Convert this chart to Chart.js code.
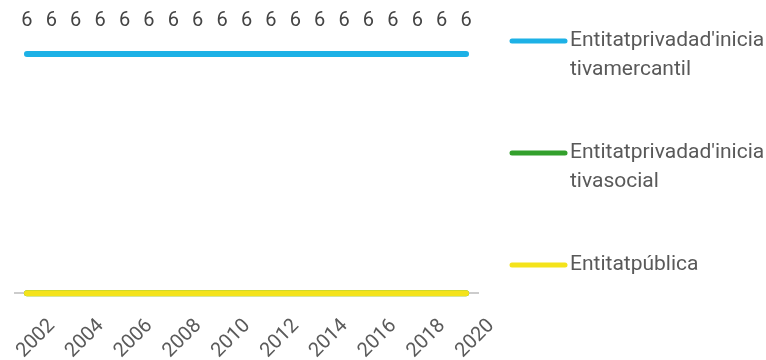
<!DOCTYPE html>
<html>
<head>
<meta charset="utf-8">
<script src="https://cdn.jsdelivr.net/npm/chart.js@4"></script>
<style>
  html, body { margin: 0; padding: 0; background: #fff; }
  #wrap { width: 766px; height: 360px; position: relative; }
</style>
</head>
<body>
<div id="wrap"><canvas id="lineChart"></canvas></div>
<script>
const years = [2002, 2003, 2004, 2005, 2006, 2007, 2008, 2009, 2010, 2011, 2012, 2013, 2014, 2015, 2016, 2017, 2018, 2019, 2020];
const mercantil = [6, 6, 6, 6, 6, 6, 6, 6, 6, 6, 6, 6, 6, 6, 6, 6, 6, 6, 6];
const social = [0, 0, 0, 0, 0, 0, 0, 0, 0, 0, 0, 0, 0, 0, 0, 0, 0, 0, 0];
const publica = [0, 0, 0, 0, 0, 0, 0, 0, 0, 0, 0, 0, 0, 0, 0, 0, 0, 0, 0];
const seriesNames = [
  ["Entitatprivadad'inicia", "tivamercantil"],
  ["Entitatprivadad'inicia", "tivasocial"],
  ["Entitatpública"]
];
const seriesColors = ['#1db1e6', '#33a02c', '#f4e31b'];

const FONT = 'Roboto, "Noto Sans", sans-serif';

const toPoints = (vals) => vals.map((v, i) => ({ x: years[i], y: v }));

// value labels above the first series
const valueLabels = {
  id: 'valueLabels',
  afterDatasetsDraw(chart) {
    const ctx = chart.ctx;
    const meta = chart.getDatasetMeta(0);
    ctx.save();
    ctx.font = '20px ' + FONT;
    ctx.fillStyle = '#444';
    ctx.textAlign = 'center';
    ctx.textBaseline = 'middle';
    meta.data.forEach((pt, i) => {
      ctx.fillText(String(mercantil[i]), pt.x, pt.y - 33);
    });
    ctx.restore();
  }
};

// legend on the right with wrapped names
const sideLegend = {
  id: 'sideLegend',
  afterDraw(chart) {
    const ctx = chart.ctx;
    const x0 = chart.chartArea.right + 34;
    const tops = [41, 153, 265];
    ctx.save();
    ctx.font = '21px ' + FONT;
    ctx.textBaseline = 'middle';
    ctx.textAlign = 'left';
    seriesNames.forEach((lines, i) => {
      const y = tops[i];
      ctx.strokeStyle = seriesColors[i];
      ctx.lineWidth = 5;
      ctx.lineCap = 'round';
      ctx.beginPath();
      ctx.moveTo(x0, y);
      ctx.lineTo(x0 + 53, y);
      ctx.stroke();
      ctx.fillStyle = '#595959';
      lines.forEach((t, j) => ctx.fillText(t, x0 + 58, y + j * 29));
    });
    ctx.restore();
  }
};

const lineStyle = { borderWidth: 6, borderCapStyle: 'round', pointRadius: 0, pointHoverRadius: 0, tension: 0, clip: false };

new Chart(document.getElementById('lineChart'), {
  type: 'line',
  data: {
    datasets: [
      { label: seriesNames[0].join(''), data: toPoints(mercantil), borderColor: seriesColors[0], order: 2, ...lineStyle },
      { label: seriesNames[1].join(''), data: toPoints(social), borderColor: seriesColors[1], order: 1, ...lineStyle },
      { label: seriesNames[2].join(''), data: toPoints(publica), borderColor: seriesColors[2], order: 0, ...lineStyle }
    ]
  },
  options: {
    responsive: true,
    maintainAspectRatio: false,
    animation: false,
    devicePixelRatio: 1,
    layout: { padding: { left: 15, right: 288, top: 54, bottom: -24 } },
    plugins: {
      legend: { display: false },
      tooltip: { enabled: false }
    },
    scales: {
      x: {
        type: 'linear',
        min: 2001.51,
        max: 2020.49,
        grid: { display: false, drawTicks: false },
        border: { color: '#cccccc', width: 2 },
        afterFit: (axis) => { axis.paddingLeft = 0; axis.paddingRight = 0; },
        ticks: {
          stepSize: 2,
          includeBounds: false,
          minRotation: 45,
          maxRotation: 45,
          labelOffset: 25,
          padding: 21,
          color: '#5a5a5a',
          font: { family: FONT, size: 20 },
          callback: (v) => String(v)
        }
      },
      y: {
        display: false,
        min: 0,
        max: 6
      }
    }
  },
  plugins: [valueLabels, sideLegend]
});
</script>
</body>
</html>
